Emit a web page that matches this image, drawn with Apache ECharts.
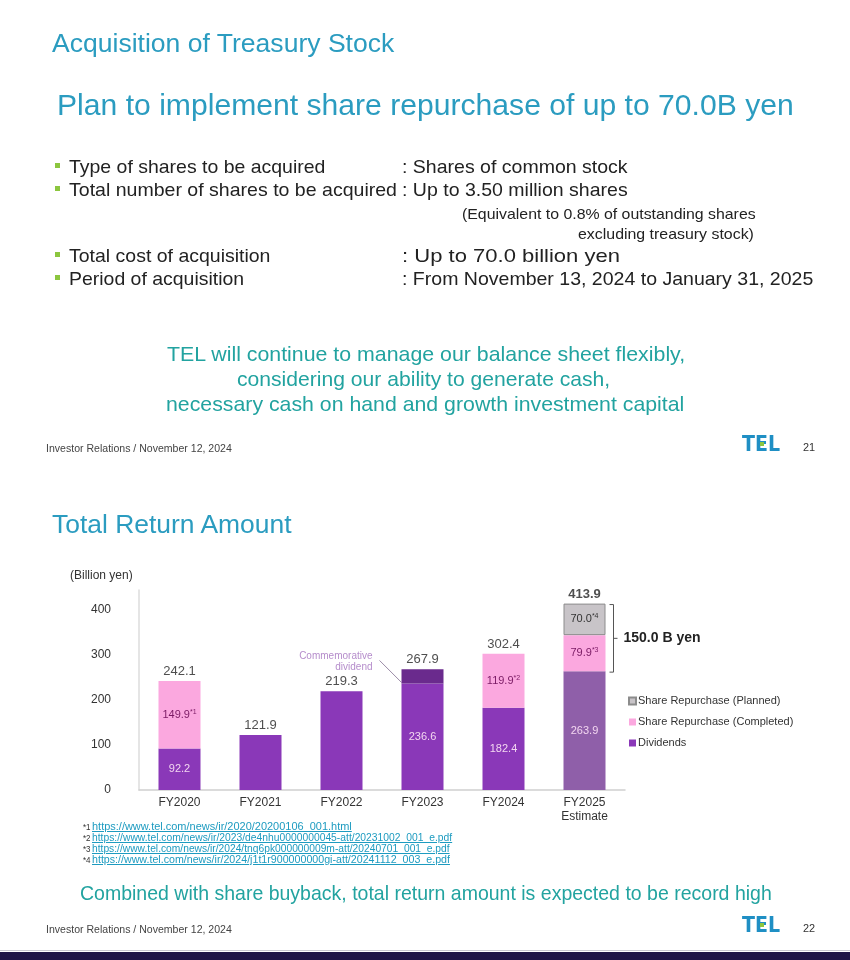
<!DOCTYPE html>
<html><head><meta charset="utf-8">
<script src="https://cdn.jsdelivr.net/npm/echarts@6/dist/echarts.min.js"></script>
<style>
html,body{margin:0;padding:0;background:#fff;}
#page{position:relative;width:850px;height:960px;overflow:hidden;font-family:"Liberation Sans",Arial,sans-serif;}
#chart{position:absolute;left:0;top:0;width:850px;height:960px;}
.t{position:absolute;white-space:nowrap;transform-origin:0 50%;}
</style></head>
<body><div id="page"><div id="chart"></div></div>
<script>
// ---- data ----
const categories = ['FY2020','FY2021','FY2022','FY2023','FY2024','FY2025\nEstimate'];
const dividends = [92.2, 121.9, 219.3, 236.6, 182.4, 263.9];
const commemorative = [null, null, null, 31.3, null, null];
const completed = [149.9, null, null, null, 119.9, 79.9];
const planned = [null, null, null, null, null, 70.0];
const totals = [242.1, 121.9, 219.3, 267.9, 302.4, 413.9];
const completedRefs = ['*1', '', '', '', '*2', '*3'];
const plannedRefs = ['', '', '', '', '', '*4'];
const yTicks = [0, 100, 200, 300, 400];
const footnotes = [
  ['*1', 'https://www.tel.com/news/ir/2020/20200106_001.html'],
  ['*2', 'https://www.tel.com/news/ir/2023/de4nhu0000000045-att/20231002_001_e.pdf'],
  ['*3', 'https://www.tel.com/news/ir/2024/tnq6pk000000009m-att/20240701_001_e.pdf'],
  ['*4', 'https://www.tel.com/news/ir/2024/j1t1r900000000gi-att/20241112_003_e.pdf']
];

// ---- page text (HTML) ----
const page = document.getElementById('page');
function T(txt, x, cy, w, size, color, extra) {
  const d = document.createElement('div');
  d.className = 't';
  d.textContent = txt;
  d.style.left = x + 'px';
  d.style.fontSize = size + 'px';
  d.style.lineHeight = size + 'px';
  d.style.top = (cy - size / 2) + 'px';
  d.style.color = color;
  if (extra) Object.assign(d.style, extra);
  page.appendChild(d);
  if (w) { const s = w / d.offsetWidth; d.style.transform = 'scaleX(' + s + ')'; }
  return d;
}
function box(x, y, w, h, c) {
  const d = document.createElement('div');
  Object.assign(d.style, {position:'absolute', left:x+'px', top:y+'px', width:w+'px', height:h+'px', background:c});
  page.appendChild(d);
}
const TITLE = '#2b9cc0', TEAL = '#22a3a0', DARK = '#222', GREEN = '#8cc63f';
T('Acquisition of Treasury Stock', 52, 43, 342, 26, TITLE);
T('Plan to implement share repurchase of up to 70.0B yen', 57, 105, 737, 30, TITLE);
const rows = [
  ['Type of shares to be acquired', 256, ': Shares of common stock', 226, 165],
  ['Total number of shares to be acquired', 328, ': Up to 3.50 million shares', 226, 188],
  ['Total cost of acquisition', 201, ': Up to 70.0 billion yen', 218, 254],
  ['Period of acquisition', 175, ': From November 13, 2024 to January 31, 2025', 411, 277]
];
rows.forEach(r => {
  box(55, r[4] - 2, 5, 5, GREEN);
  T(r[0], 69, r[4] + 1, r[1], 19, DARK);
  T(r[2], 402, r[4] + 1, r[3], 19, DARK);
});
T('(Equivalent to 0.8% of outstanding shares', 462, 213, 294, 15, DARK);
T('excluding treasury stock)', 578, 233, 176, 15, DARK);
T('TEL will continue to manage our balance sheet flexibly,', 167, 353, 518, 21, TEAL);
T('considering our ability to generate cash,', 237, 378, 373, 21, TEAL);
T('necessary cash on hand and growth investment capital', 166, 403, 518, 21, TEAL);
function footer(cy, num) {
  T('Investor Relations / November 12, 2024', 46, cy, 186, 11, '#444');
  T('TEL', 742, cy - 4, 38, 21, '#1f8fc4', {fontWeight:'900', fontFamily:'"DejaVu Sans",sans-serif'});
  box(760, cy - 6, 4, 4, GREEN);
  T(num, 803, cy, 12, 10, '#333');
}
footer(448, '21');
T('Total Return Amount', 52, 524, 240, 25, TITLE);
footnotes.forEach((f, i) => {
  const cy = 827 + i * 11;
  T(f[0], 83, cy, 8, 9, '#333');
  T(f[1], 92, cy, [260, 360, 358, 358][i], 10, '#1d9bc0', {textDecoration:'underline'});
});
T('Combined with share buyback, total return amount is expected to be record high', 80, 892, 692, 21, TEAL);
footer(929, '22');
box(0, 950, 850, 1, '#c8c8d0');
box(0, 952, 850, 8, '#1f1647');

// ---- chart ----
const chart = echarts.init(document.getElementById('chart'), null, {renderer:'canvas'});
const DIV = '#8a38b8', DIV_EST = '#8f5fa9', COMM = '#6a2a8d', PINK = '#fba8df', GRAY = '#c8c4c8';
const FONT = '"Liberation Sans", Arial, sans-serif';
const richRef = {
  v: {fontSize: 11, color: '#7a1a64', fontFamily: FONT},
  s: {fontSize: 7, color: '#7a1a64', fontFamily: FONT, padding: [0, 0, 6, 0]}
};
const richRefG = {
  v: {fontSize: 11, color: '#333', fontFamily: FONT},
  s: {fontSize: 7, color: '#333', fontFamily: FONT, padding: [0, 0, 6, 0]}
};
const option = {
  animation: false,
  textStyle: {fontFamily: FONT},
  grid: {left: 139, width: 486, top: 590, bottom: 170, containLabel: false},
  legend: {
    orient: 'vertical', left: 623, top: 690, itemWidth: 7, itemHeight: 7, itemGap: 9,
    icon: 'rect',
    textStyle: {fontSize: 11, color: '#333', lineHeight: 12, padding: [0, 0, 0, -3]},
    data: ['Share Repurchase (Planned)', 'Share Repurchase (Completed)', 'Dividends']
  },
  xAxis: {
    type: 'category', data: categories,
    axisLine: {lineStyle: {color: '#cfcfcf', width: 1.5}},
    axisTick: {show: false},
    axisLabel: {fontSize: 12, color: '#333', margin: 6, lineHeight: 14}
  },
  yAxis: {
    type: 'value', min: 0, max: 444, interval: 100,
    axisLine: {show: true, lineStyle: {color: '#dcdcdc', width: 1.5}},
    axisTick: {show: false},
    splitLine: {show: false},
    axisLabel: {fontSize: 12, color: '#333', margin: 28, showMaxLabel: false,
      formatter: v => yTicks.includes(v) ? String(v) : ''}
  },
  series: [
    {
      name: 'Dividends', type: 'bar', stack: 't', barWidth: 42,
      itemStyle: {color: DIV},
      data: dividends.map((v, i) => i === 5 ? {value: v, itemStyle: {color: DIV_EST}} : v),
      label: {show: true, position: 'inside', color: '#f3d6f0', fontSize: 11,
        formatter: p => (completed[p.dataIndex] || commemorative[p.dataIndex]) ? p.value.toFixed(1) : ''}
    },
    {
      name: 'Commemorative dividend', type: 'bar', stack: 't', barWidth: 42,
      itemStyle: {color: COMM}, data: commemorative
    },
    {
      name: 'Share Repurchase (Completed)', type: 'bar', stack: 't', barWidth: 42,
      itemStyle: {color: PINK}, data: completed,
      label: {show: true, position: 'inside', rich: richRef,
        formatter: p => '{v|' + p.value.toFixed(1) + '}{s|' + completedRefs[p.dataIndex] + '}'}
    },
    {
      name: 'Share Repurchase (Planned)', type: 'bar', stack: 't', barWidth: 42,
      itemStyle: {color: GRAY, borderColor: '#8c8c8c', borderWidth: 1}, data: planned,
      label: {show: true, position: 'inside', rich: richRefG,
        formatter: p => '{v|' + p.value.toFixed(1) + '}{s|' + plannedRefs[p.dataIndex] + '}'}
    },
    {
      name: 'Total', type: 'scatter', symbolSize: 0, z: 5,
      data: totals.map((v, i) => i === 5 ? {value: v, label: {fontWeight: 'bold'}} : v),
      label: {show: true, position: 'top', distance: 3, fontSize: 13, color: '#222',
        formatter: p => p.value.toFixed(1)},
      emphasis: {disabled: true}
    }
  ]
};
chart.setOption(option);
// annotations positioned via the chart's own scale
const P = (i, v) => chart.convertToPixel({gridIndex: 0}, [i, v]);
const top25 = P(5, totals[5]);
const midStart = P(5, dividends[5]);
const bx = top25[0] + 29;
const y1 = top25[1] + 1, y2 = midStart[1] + 1, ym = (y1 + y2) / 2;
const commBottom = P(3, dividends[3]);
const barLeft = commBottom[0] - 21;
chart.setOption({
  graphic: [
    {type: 'text', left: 70, top: 570, style: {text: '(Billion yen)', font: '12px ' + FONT, fill: '#333'}},
    {type: 'polyline', shape: {points: [[bx - 4, y1], [bx, y1], [bx, y2], [bx - 4, y2]]}, style: {stroke: '#555', lineWidth: 1, fill: null}},
    {type: 'line', shape: {x1: bx, y1: ym, x2: bx + 4, y2: ym}, style: {stroke: '#555', lineWidth: 1}},
    {type: 'text', x: bx + 10, y: ym, style: {text: '150.0 B yen', font: 'bold 14px ' + FONT, fill: '#222', verticalAlign: 'middle'}},
    {type: 'text', x: barLeft - 29, y: commBottom[1] - 11, style: {text: 'Commemorative\ndividend', font: '10px ' + FONT, fill: '#b58ccb', align: 'right', verticalAlign: 'bottom', lineHeight: 11}},
    {type: 'line', shape: {x1: barLeft - 22, y1: commBottom[1] - 23, x2: barLeft, y2: commBottom[1] - 1}, style: {stroke: '#9b8ba6', lineWidth: 1}}
  ]
});
</script></body></html>
